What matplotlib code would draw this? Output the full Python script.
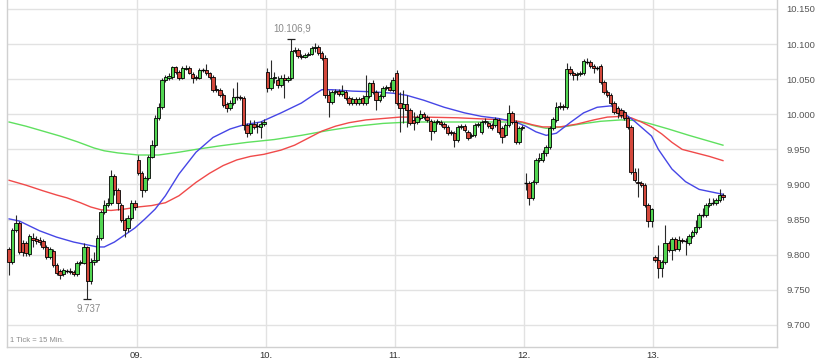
import matplotlib
matplotlib.use("Agg")
import matplotlib.pyplot as plt
import numpy as np

# ---------------- data (15-min candles, DAX points) ----------------
opens = [
    # 08.
    9808,9790,9835,9845,9817,9817,9801,9824,9822,9821,9820,9811,9797,9805,9785,9777,9772,9777,9777,9775,9772,9788,9788,9811,9763,9790,9792,9824,9861,9871,9874,9912,9892,9871,9849,9838,9852,9874,
    # 09.
    9935,9916,9892,9909,9939,9956,9995,10010,10049,10052,10053,10067,10060,10052,10064,10066,10057,10053,10052,10063,10063,10059,10053,10036,10035,10027,10015,10009,10016,10025,10025,10023,9985,9973,9986,9983,9982,9986,
    # 10.
    10060,10037,10052,10049,10042,10052,10049,10052,10090,10092,10083,10082,10084,10086,10094,10096,10087,10080,10027,10017,10032,10033,10029,10032,10023,10016,10022,10016,10023,10016,10026,10045,10032,10020,10026,10037,10039,10035,
    # 11.
    10059,10016,10009,10015,10006,9992,9989,9995,10000,9996,9990,9976,9989,9989,9986,9982,9975,9973,9963,9982,9983,9975,9969,9970,9985,9975,9989,9988,9985,9985,9992,9980,9970,9985,10002,9989,9960,9980,
    # 12.
    9902,9902,9881,9904,9935,9935,9945,9953,9980,9992,10010,10012,10010,10064,10059,10056,10057,10059,10074,10074,10069,10066,10069,10046,10032,10027,10016,10009,10006,10003,9995,9982,9918,9904,9902,9899,9871,9848,
    # 13.
    9797,9792,9781,9790,9817,9807,9822,9808,9821,9820,9817,9827,9832,9839,9857,9857,9871,9874,9874,9878,9885,
]
highs = [
    9811,9838,9857,9848,9821,9820,9829,9831,9827,9825,9822,9814,9811,9808,9788,9780,9781,9780,9781,9778,9791,9792,9817,9812,9795,9804,9828,9864,9878,9881,9921,9915,9895,9874,9852,9857,9878,9878,
    9942,9919,9912,9942,9963,9999,10016,10052,10056,10059,10069,10069,10063,10069,10070,10069,10060,10056,10066,10066,10072,10060,10056,10042,10037,10030,10017,10020,10037,10046,10027,10026,9988,9992,9992,9989,9990,9993,
    10066,10077,10060,10054,10056,10057,10054,10106.9,10096,10094,10086,10087,10089,10097,10102,10099,10090,10084,10035,10035,10036,10036,10042,10035,10026,10025,10025,10025,10027,10056,10046,10049,10035,10029,10040,10042,10046,10053,
    10063,10032,10035,10027,10009,10003,9999,10006,10003,9999,9993,9992,9993,9992,9989,9985,9978,9976,9985,9986,9986,9978,9973,9988,9989,9992,9995,9990,9988,9996,9995,9983,9988,10013,10005,9992,9983,9985,
    9916,9905,9906,9938,9945,9949,9956,9983,9996,10017,10017,10015,10073,10069,10062,10060,10062,10079,10080,10077,10072,10069,10072,10049,10035,10030,10019,10012,10009,10006,9998,9985,9923,9923,9905,9902,9874,9867,
    9800,9814,9792,9842,9820,9825,9825,9827,9824,9824,9829,9835,9849,9859,9867,9874,9881,9881,9881,9894,9888,
]
lows = [
    9771,9787,9832,9801,9798,9798,9798,9811,9815,9814,9808,9794,9794,9782,9771,9765,9770,9774,9772,9770,9770,9785,9787,9737,9758,9785,9790,9821,9858,9868,9871,9885,9864,9847,9825,9832,9849,9864,
    9913,9882,9889,9906,9938,9953,9992,10007,10046,10049,10050,10057,10049,10050,10063,10057,10045,10049,10050,10060,10056,10050,10032,10032,10025,10010,10003,10006,10013,10020,10020,9978,9968,9970,9979,9973,9966,9983,
    10032,10035,10045,10037,10039,10023,10046,10049,10087,10080,10079,10080,10083,10084,10089,10084,10077,10023,9996,10015,10029,10026,10026,10020,10013,10013,10013,10013,10013,10013,10023,10029,10006,10017,10023,10035,10033,10032,
    10013,9975,9988,9982,9985,9978,9986,9992,9993,9989,9963,9973,9986,9983,9979,9970,9970,9953,9960,9979,9975,9963,9966,9968,9982,9972,9986,9980,9978,9982,9972,9959,9968,9982,9986,9958,9958,9978,
    9892,9871,9878,9901,9932,9932,9941,9950,9978,9989,10007,10006,10007,10056,10049,10049,10054,10056,10072,10066,10059,10063,10043,10029,10025,10013,10000,9995,9995,9992,9979,9915,9904,9882,9896,9868,9839,9839,
    9790,9767,9768,9787,9804,9792,9805,9805,9817,9800,9814,9824,9829,9837,9854,9854,9868,9871,9871,9875,9878,
]
closes = [
    9790,9835,9845,9804,9804,9802,9827,9821,9820,9818,9811,9797,9808,9785,9774,9771,9778,9777,9775,9772,9788,9790,9811,9763,9790,9792,9824,9861,9871,9874,9912,9892,9874,9849,9835,9852,9874,9868,
    9916,9892,9909,9939,9956,9995,10010,10049,10053,10054,10067,10060,10052,10066,10066,10059,10052,10052,10063,10063,10059,10053,10035,10035,10027,10013,10009,10016,10025,10025,10023,9985,9973,9986,9982,9983,9986,9989,
    10037,10052,10053,10042,10052,10049,10052,10090,10092,10083,10082,10084,10086,10094,10096,10087,10080,10027,10017,10032,10033,10029,10033,10023,10016,10022,10016,10022,10016,10026,10045,10032,10020,10026,10037,10039,10035,10049,
    10016,10009,10015,10006,9988,9988,9996,10000,9996,9992,9976,9989,9990,9986,9982,9973,9973,9963,9982,9983,9978,9966,9970,9985,9986,9989,9990,9983,9980,9993,9975,9968,9985,10002,9989,9960,9980,9982,
    9902,9881,9904,9935,9938,9945,9953,9980,9993,10010,10012,10010,10064,10059,10056,10057,10059,10076,10074,10069,10066,10066,10046,10032,10027,10016,10003,10002,9999,9995,9982,9918,9906,9902,9899,9871,9848,9865,
    9792,9781,9790,9817,9807,9822,9808,9821,9820,9820,9827,9832,9839,9857,9857,9871,9874,9874,9878,9885,9882,
]

# moving averages (candle index, value)
ma_fast_idx = [0,3,6,9,14,19,23,26,28,31,34,37,40,43,46,50,55,60,65,69,74,80,86,90,92,95,101,107,113,117,122,128,134,139,144,149,152,155,158,161,165,169,173,177,180,184,189,191,195,199,203,208,210]
ma_fast_val = [9851,9848,9841,9834,9825,9818,9814,9811,9811,9818,9828,9838,9851,9865,9884,9915,9946,9967,9979,9985,9989,10002,10016,10029,10035,10035,10033,10032,10030,10027,10020,10010,10002,9997,9994,9989,9983,9975,9970,9973,9988,10002,10010,10012,10005,9990,9969,9950,9922,9904,9893,9888,9886]
ma_mid_idx = [0,5,10,14,17,21,24,27,30,34,38,42,46,50,55,59,63,67,71,75,80,84,88,92,96,100,105,110,115,122,132,141,147,151,154,157,162,167,172,176,180,183,186,189,192,195,198,202,206,210]
ma_mid_val = [9906,9899,9891,9885,9881,9874,9868,9864,9863,9865,9868,9870,9874,9884,9903,9916,9927,9935,9940,9943,9949,9956,9966,9976,9983,9988,9992,9994,9996,9996,9995,9993,9992,9989,9985,9982,9982,9986,9992,9996,9997,9995,9989,9982,9972,9960,9950,9945,9940,9934]
ma_slow_idx = [0,5,10,15,20,25,28,32,38,44,50,55,62,70,78,86,94,102,110,118,132,146,151,155,158,163,168,174,180,185,189,194,200,205,210]
ma_slow_val = [9989,9983,9976,9969,9961,9952,9948,9945,9942,9942,9946,9950,9955,9960,9964,9970,9977,9983,9987,9989,9989,9989,9988,9983,9980,9982,9986,9990,9992,9991,9986,9979,9970,9963,9956]

day_labels = ["09.", "10.", "11.", "12.", "13."]
day_starts = [38, 76, 114, 152, 190]
y_ticks = [9700, 9750, 9800, 9850, 9900, 9950, 10000, 10050, 10100, 10150]
interval_note = "1 Tick = 15 Min."

# ---------------- styling ----------------
UP = "#52d652"
DOWN = "#d4483c"
GRID = "#e2e2e2"
plt.rcParams["font.family"] = ["Liberation Sans", "DejaVu Sans"]

o = np.array(opens, float); h = np.array(highs, float)
l = np.array(lows, float); c = np.array(closes, float)
h = np.maximum(h, np.maximum(o, c)); l = np.minimum(l, np.minimum(o, c))
x = np.arange(len(o))

fig = plt.figure(figsize=(8.2, 3.63), dpi=100)
ax = fig.add_axes([7/820, 16/363, 770/820, 347/363])

ax.set_xlim(-0.6, 225.9)
ax.set_ylim(10162.8 - 347/0.702, 10162.8)

# grid
for yv in y_ticks:
    ax.axhline(yv, color=GRID, lw=1, zorder=0)
for s in day_starts:
    ax.axvline(s - 0.5, color=GRID, lw=1, zorder=0)

# moving averages
ax.plot(ma_slow_idx, ma_slow_val, color="#5fe05f", lw=1.0, zorder=1, solid_joinstyle="round")
ax.plot(ma_mid_idx, ma_mid_val, color="#f04a4a", lw=1.0, zorder=1, solid_joinstyle="round")
ax.plot(ma_fast_idx, ma_fast_val, color="#4646e6", lw=1.0, zorder=1, solid_joinstyle="round")

# candles
ax.vlines(x, l, h, color="#2a2a2a", lw=0.8, zorder=2)
body_lo = np.minimum(o, c); body_h = np.abs(c - o)
colors = np.where(c > o, UP, DOWN)
mask = body_h > 0
ax.bar(x[mask], body_h[mask], bottom=body_lo[mask], width=1.0,
       color=colors[mask], edgecolor="black", linewidth=0.6, zorder=3)
ax.hlines(o[~mask], x[~mask] - 0.5, x[~mask] + 0.5, color="black", lw=1.0, zorder=3)

# extreme annotations
ih = int(np.argmax(h)); il = int(np.argmin(l))
ax.hlines([h[ih]], ih - 1.2, ih + 1.2, color="#222", lw=0.9, zorder=3)
ax.hlines([l[il]], il - 1.2, il + 1.2, color="#222", lw=0.9, zorder=3)
def de_fmt(v, dec):
    s = f"{v:,.{dec}f}"
    return s.replace(",", "X").replace(".", ",").replace("X", ".")
ax.annotate(de_fmt(h[ih], 1), (ih, h[ih]), xytext=(1, 4), textcoords="offset points",
            ha="center", va="bottom", fontsize=7, color="#8a8a8a")
ax.annotate(de_fmt(l[il], 0), (il, l[il]), xytext=(1, -4), textcoords="offset points",
            ha="center", va="top", fontsize=7, color="#8a8a8a")

# axes
ax.yaxis.tick_right()
ax.set_yticks(y_ticks)
ax.set_yticklabels([de_fmt(v, 0) for v in y_ticks], fontsize=6.8, color="#555555")
ax.set_xticks([s - 0.5 for s in day_starts])
ax.set_xticklabels(day_labels, fontsize=6.8, color="#333333")
ax.tick_params(axis="both", length=0)
ax.tick_params(axis="y", pad=7)
ax.tick_params(axis="x", pad=3)
for side in ["left", "right", "bottom"]:
    ax.spines[side].set_color("#d0d0d0")
    ax.spines[side].set_linewidth(1)
ax.spines["top"].set_visible(False)

ax.text(0.004, 0.008, interval_note, transform=ax.transAxes, fontsize=5.5,
        color="#8a8a8a", ha="left", va="bottom")

fig.savefig("out.png", dpi=100, facecolor="white")
